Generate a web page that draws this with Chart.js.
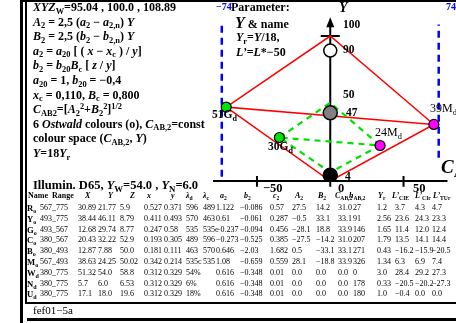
<!DOCTYPE html>
<html>
<head>
<meta charset="utf-8">
<script src="https://cdn.jsdelivr.net/npm/chart.js@4/dist/chart.umd.min.js"></script>
<style>
  html,body{margin:0;padding:0;background:#fff;}
  #wrap{position:relative;width:456px;height:323px;overflow:hidden;background:#fff;font-family:"Liberation Serif","Times New Roman",serif;color:#000;}
  #chart{position:absolute;left:0;top:0;}
  .t{position:absolute;white-space:nowrap;line-height:1;}
  .t sub{font-size:70%;vertical-align:baseline;position:relative;top:0.32em;}
  .t sup{font-size:70%;vertical-align:baseline;position:relative;top:-0.45em;}
  .bar{position:absolute;background:#000;}
</style>
</head>
<body>
<div id="wrap">
  <canvas id="chart" width="456" height="323"></canvas>
</div>
<script>
// Chart values
const axisX = [0, 0, 0];
const axisY = [90, 47, 4];
const axisFill = ["#ffffff", "#808080", "#000000"];
const hueX = [-71, -34.7, 70.7, 34];
const hueY = [51, 30, 39, 24.5];
const hueFill = ["#00e600", "#00e600", "#ff00ff", "#ff00ff"];
const redPathX = [70.7, 0, -71, 70.7, 0, -71];
const redPathY = [39, 100, 51, 39, 0, 51];
const greenPathX = [-34.7, 0, 34, -34.7, 0, 34];
const greenPathY = [30, 54, 24.5, 30, 6, 24.5];
const limitX = [-74, 74];
const limitTop = [108, 108];
const limitBottom = [3, 16];
const xTicks = [-50, 50];
const yTicks = [100];

// Table values
const tableHead = ["Name","Range","<i>X</i>","<i>Y</i>","<i>Z</i>","<i>x</i>","<i>y</i>","<i>λ</i><sub>d</sub>","<i>λ</i><sub>c</sub>","<i>a</i><sub>2</sub>","<i>b</i><sub>2</sub>","<i>c</i><sub>2</sub>","<i>A</i><sub>2</sub>","<i>B</i><sub>2</sub>","<i>C</i><sub>AB,2</sub>","<i>h</i><sub>AB,2</sub>","<i>Y</i><sub>r</sub>","<i>L’</i><sub>CIE</sub>","<i>L’</i><sub>CIr</sub>","<i>L’</i><sub>TUr</sub>"];
const headX = [28,52,85,108,130,147,171,186,203,220,244,273,295,318,335,349,378,392,415,433];
const colX = [27,40,78,98,120,144,164,186,203,216,240,270,292,316,338,353,377,395,415,432];
const tableRows = [
  ["R<sub>o</sub>","567_775","30.89","21.77","5.9","0.527","0.371","596","489","1.122","−0.086","0.57","27.5","14.2","31.0","27","1.2","3.7","4.3","4.7"],
  ["Y<sub>o</sub>","493_775","38.44","46.11","8.79","0.411","0.493","570","463","0.61","−0.061","0.287","−0.5","33.1","33.1","91","2.56","23.6","24.3","23.3"],
  ["G<sub>o</sub>","493_567","12.68","29.74","8.77","0.247","0.58","535","535c","−0.237","−0.094","0.456","−28.1","18.8","33.9","146","1.65","11.4","12.0","12.4"],
  ["C<sub>o</sub>","380_567","20.43","32.22","52.9","0.193","0.305","489","596","−0.273","−0.525","0.385","−27.5","−14.2","31.0","207","1.79","13.5","14.1","14.4"],
  ["B<sub>o</sub>","380_493","12.87","7.88","50.0","0.181","0.111","463","570","0.646","−2.03","1.682","0.5","−33.1","33.1","271","0.43","−16.2","−15.9","−20.5"],
  ["M<sub>o</sub>","567_493","38.63","24.25","50.02","0.342","0.214","535c","535","1.08","−0.659","0.559","28.1","−18.8","33.9","326","1.34","6.3","6.9","7.4"],
  ["W<sub>d</sub>","380_775","51.32","54.0","58.8","0.312","0.329","54%","","0.616","−0.348","0.01","0.0","0.0","0.0","0","3.0","28.4","29.2","27.3"],
  ["N<sub>d</sub>","380_775","5.7","6.0","6.53","0.312","0.329","6%","","0.616","−0.348","0.01","0.0","0.0","0.0","178","0.33","−20.5","−20.2","−27.3"],
  ["U<sub>d</sub>","380_775","17.1","18.0","19.6","0.312","0.329","18%","","0.616","−0.348","0.01","0.0","0.0","0.0","180","1.0","−0.4","0.0","0.0"]
];

const wrap = document.getElementById("wrap");
function put(html, x, y, css){
  const d = document.createElement("div");
  d.className = "t";
  d.innerHTML = html;
  d.style.left = x + "px";
  d.style.top = y + "px";
  d.style.cssText += css || "";
  wrap.appendChild(d);
  return d;
}
function bar(x, y, w, h){
  const d = document.createElement("div");
  d.className = "bar";
  d.style.left = x+"px"; d.style.top = y+"px"; d.style.width = w+"px"; d.style.height = h+"px";
  wrap.appendChild(d);
}

// frame
bar(20, 0, 3, 323);
bar(25, 0, 1.5, 303);
bar(20, 0, 436, 1.5);
bar(25, 302, 431, 1.5);
bar(27, 318, 429, 3);

// left text block
const big = "font-size:12px;font-weight:bold;";
const lines = [
  "<i>XYZ</i><sub>W</sub>=95.04 , 100.0 , 108.89",
  "<i>A</i><sub>2</sub> = 2,5 (<i>a</i><sub>2</sub> − <i>a</i><sub>2,n</sub>) <i>Y</i>",
  "<i>B</i><sub>2</sub> = 2,5 (<i>b</i><sub>2</sub> − <i>b</i><sub>2,n</sub>) <i>Y</i>",
  "<i>a</i><sub>2</sub> = <i>a</i><sub>20</sub> [ ( <i>x</i> − <i>x</i><sub>c</sub> ) / <i>y</i>]",
  "<i>b</i><sub>2</sub> = <i>b</i><sub>20</sub><i>B</i><sub>c</sub> [ <i>z</i> / <i>y</i>]",
  "<i>a</i><sub>20</sub> = 1,  <i>b</i><sub>20</sub> = −0,4",
  "<i>x</i><sub>c</sub> = 0,110,  <i>B</i><sub>c</sub> = 0,800",
  "<i>C</i><sub>AB2</sub>=[<i>A</i><sub>2</sub><sup>2</sup>+<i>B</i><sub>2</sub><sup>2</sup>]<sup>1/2</sup>",
  "6 <i>Ostwald</i> colours (o), <i>C</i><sub>AB,2</sub>=const",
  "colour space (<i>C</i><sub>AB,2</sub>, <i>Y</i>)",
  "<i>Y</i>=18<i>Y</i><sub>r</sub>"
];
lines.forEach((s,i)=>{ put(s, 33, 1 + i*14.6, big); });

// table
put("Illumin. D65, <i>Y</i><sub>W</sub>=54.0 , <i>Y</i><sub>N</sub>=6.0", 33, 179, "font-size:12.5px;font-weight:bold;");
tableHead.forEach((h,i)=>{ put(h, headX[i], 192, "font-size:8px;font-weight:bold;"); });
tableRows.forEach((r,j)=>{
  r.forEach((c,i)=>{
    if(!c) return;
    put(c, colX[i], 204 + j*10.8, i===0 ? "font-weight:bold;font-size:8.6px;" : "font-size:8px;");
  });
});
put("fef01−5a", 33, 305, "font-size:11px;");

// chart labels
put("−74", 216, 2, "font-size:10px;font-weight:bold;color:#0000ff;");
put("74", 446, 2, "font-size:10px;font-weight:bold;color:#0000ff;");
put("Parameter:", 231, 1, "font-size:12px;font-weight:bold;");
put("<i style='font-size:16px'>Y</i> &amp; name", 235, 15, "font-size:12px;font-weight:bold;");
put("<i>Y</i><sub>r</sub>=<i>Y</i>/18,", 236, 31, "font-size:12px;font-weight:bold;");
put("<i>L’</i>=<i>L</i>*−50", 236, 46, "font-size:12px;font-weight:bold;");
put("<i>Y</i>", 339, 1, "font-size:14px;font-weight:bold;");
put("100", 343, 19, "font-size:11.5px;font-weight:bold;");
put("90", 343, 44, "font-size:11.5px;font-weight:bold;");
put("50", 343, 89, "font-size:11.5px;font-weight:bold;");
put("47", 346, 107, "font-size:11.5px;font-weight:bold;");
put("4", 345, 171, "font-size:11.5px;font-weight:bold;");
put("−50", 263, 182, "font-size:12.5px;font-weight:bold;");
put("0", 338, 182, "font-size:12.5px;font-weight:bold;");
put("50", 413, 182, "font-size:12.5px;font-weight:bold;");
put("51G<sub>d</sub>", 212, 109, "font-size:11.5px;font-weight:bold;");
put("30G<sub>d</sub>", 268, 141, "font-size:11.5px;font-weight:bold;");
put("39M<sub>d</sub>", 430, 102, "font-size:12px;");
put("24M<sub>d</sub>", 375, 126, "font-size:12px;");
put("<i>C</i><sub>AB</sub>", 441, 157, "font-size:19px;font-weight:bold;");

const toPts = (xs, ys) => xs.map((x,i)=>({x:x, y:ys[i]}));

const axesPlugin = {
  id: "axesPlugin",
  beforeDatasetsDraw(chart){
    const c = chart.ctx, sx = chart.scales.x, sy = chart.scales.y;
    const X = v => sx.getPixelForValue(v), Y = v => sy.getPixelForValue(v);
    c.save();
    c.strokeStyle = "#000"; c.fillStyle = "#000"; c.lineWidth = 2;
    c.beginPath();
    c.moveTo(X(sx.min), Y(0)); c.lineTo(X(sx.max), Y(0));
    c.moveTo(X(0), Y(-4)); c.lineTo(X(0), Y(110));
    xTicks.forEach(t=>{ c.moveTo(X(t), Y(-4)); c.lineTo(X(t), Y(3.5)); });
    yTicks.forEach(t=>{ c.moveTo(X(-6.5), Y(t)); c.lineTo(X(6.5), Y(t)); });
    c.stroke();
    c.beginPath();
    c.moveTo(X(0), Y(113)); c.lineTo(X(0)-4, Y(106)); c.lineTo(X(0)+4, Y(106)); c.closePath();
    c.fill();
    c.restore();
  }
};

new Chart(document.getElementById("chart"), {
  type: "scatter",
  data: {
    datasets: [
      { data: toPts(axisX, axisY), backgroundColor: axisFill, borderColor: "#000", borderWidth: 1.5,
        pointRadius: [6.5, 7, 7], order: 0 },
      { data: toPts(hueX, hueY), backgroundColor: hueFill, borderColor: "#000", borderWidth: 1.2,
        pointRadius: 5, order: 1 },
      { data: toPts(greenPathX, greenPathY), showLine: true, borderColor: "#00e000", borderWidth: 2.2,
        borderDash: [6,5], pointRadius: 0, order: 2 },
      { data: toPts(redPathX, redPathY), showLine: true, borderColor: "#ff0000", borderWidth: 1.5,
        pointRadius: 0, order: 3 },
      { data: toPts([limitX[0], limitX[0]], [limitBottom[0], limitTop[0]]), showLine: true, borderColor: "#0000ff",
        borderWidth: 2.5, borderDash: [7,5], pointRadius: 0, order: 4 },
      { data: toPts([limitX[1], limitX[1]], [limitBottom[1], limitTop[1]]), showLine: true, borderColor: "#0000ff",
        borderWidth: 2.5, borderDash: [7,5], pointRadius: 0, order: 4 }
    ]
  },
  options: {
    responsive: false,
    animation: false,
    layout: { padding: { left: 213, right: 0, top: 0, bottom: 142 } },
    plugins: { legend: { display: false }, tooltip: { enabled: false } },
    scales: {
      x: { type: "linear", min: -80, max: 80, display: false },
      y: { type: "linear", min: 0, max: 119, display: false }
    }
  },
  plugins: [axesPlugin]
});
</script>
</body>
</html>
